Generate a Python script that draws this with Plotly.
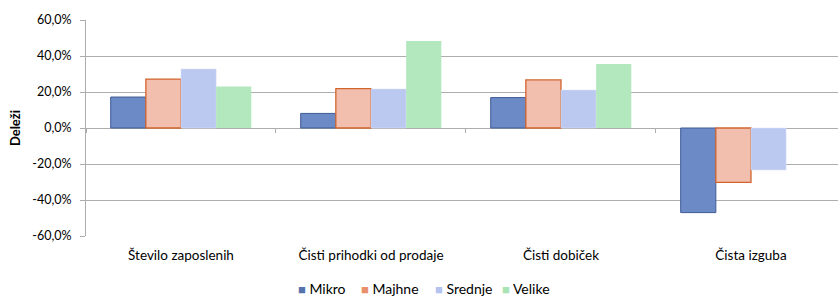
import plotly.graph_objects as go

categories = ["Število zaposlenih", "Čisti prihodki od prodaje", "Čisti dobiček", "Čista izguba"]
mikro = [17.2, 8.1, 16.9, -47.0]
majhne = [27.2, 21.9, 26.7, -30.2]
srednje = [32.8, 21.7, 21.1, -23.3]
velike = [23.0, 48.3, 35.6, 0.0]
y_tickvals = [60, 40, 20, 0, -20, -40, -60]
y_ticktext = ["60,0%", "40,0%", "20,0%", "0,0%", "-20,0%", "-40,0%", "-60,0%"]

# name, values, fill, border, border width, legend swatch colour
series = [
    ("Mikro", mikro, "#6C8AC6", "#3E5B95", 1, "#5673AE"),
    ("Majhne", majhne, "#F2BFAE", "#D2652E", 1.3, "#E98F6C"),
    ("Srednje", srednje, "#BBC8F0", "#DCE3F8", 0.5, "#B3C2EE"),
    ("Velike", velike, "#B3E7BE", "rgba(0,0,0,0)", 0, "#A8E3B4"),
]

W, H = 838, 296
ML, MR, MT, MB = 86, 0, 20, 60
legend_px = [298, 361, 435, 502]   # left edge of each legend entry (layout)
legend_py = 288

fig = go.Figure()
for name, vals, fill, line, lw, sw in series:
    fig.add_trace(go.Bar(
        x=categories, y=vals, name=name, showlegend=False,
        marker=dict(color=fill, line=dict(color=line, width=lw)),
    ))

# invisible trace to carry the zero-line axis with boundary ticks
fig.add_trace(go.Scatter(x=categories, y=[0] * len(categories), xaxis="x2",
                         mode="markers", marker=dict(opacity=0),
                         showlegend=False, hoverinfo="skip"))

pw, ph = W - ML - MR, H - MT - MB
for (name, vals, fill, line, lw, sw), px in zip(series, legend_px):
    fig.add_annotation(
        text=f'<span style="color:{sw};font-size:13px">■</span> {name}',
        xref="paper", yref="paper",
        x=(px - ML) / pw, y=(H - MB - legend_py) / ph,
        xanchor="left", yanchor="middle", showarrow=False,
        font=dict(size=14), xshift=-2)

grid = "#ADADAD"
fig.update_layout(
    width=W, height=H,
    margin=dict(l=ML, r=MR, t=MT, b=MB, autoexpand=False),
    paper_bgcolor="white", plot_bgcolor="white",
    font=dict(family="Lato, 'Open Sans', sans-serif", size=13.5, color="#000000"),
    barmode="group", bargap=0.26, bargroupgap=0,
    showlegend=False,
    xaxis=dict(range=[-0.5, 3.458], showgrid=False, ticks="", showline=False,
               zeroline=False, ticklabelstandoff=9, fixedrange=True,
               automargin=False, tickfont=dict(size=13.5)),
    xaxis2=dict(overlaying="x", matches="x", anchor="free", position=0.5,
                side="bottom", showticklabels=False, ticks="outside",
                tickson="boundaries", ticklen=4, tickcolor=grid,
                showline=False, showgrid=False, zeroline=False,
                automargin=False),
    yaxis=dict(range=[-60, 60], tickvals=y_tickvals, ticktext=y_ticktext,
               showgrid=True, gridcolor=grid, gridwidth=1,
               zeroline=True, zerolinecolor=grid, zerolinewidth=1,
               showline=True, linecolor=grid, linewidth=1,
               ticks="outside", ticklen=5, tickcolor=grid,
               ticklabelstandoff=6, automargin=False,
               tickfont=dict(size=12.5),
               title=dict(text="<b>Deleži</b>", font=dict(size=13), standoff=8)),
)

fig.write_html("out.html", config={"displayModeBar": False},
               post_script="document.body.style.margin='0';")
